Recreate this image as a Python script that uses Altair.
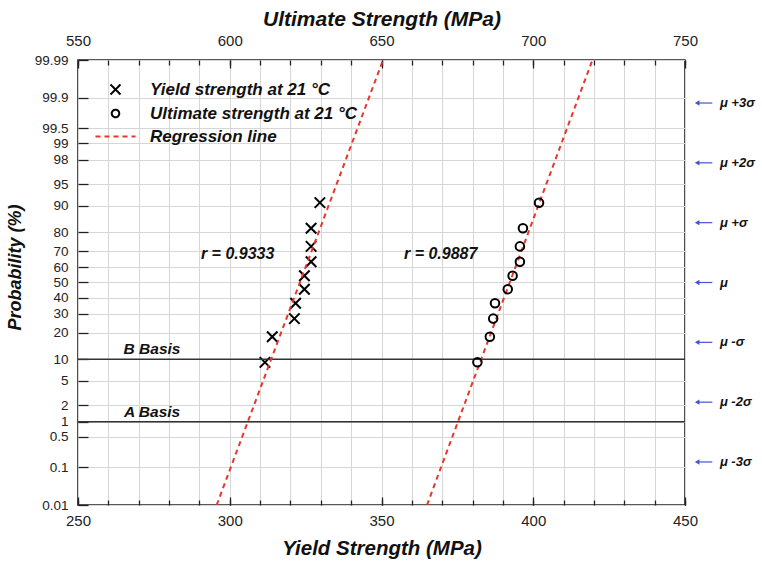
import altair as alt
import pandas as pd
from statistics import NormalDist

ND = NormalDist()


def zval(p):
    return ND.inv_cdf(p / 100.0)


# ---------------- data ----------------
plot_prob = [9.1, 18.2, 27.3, 36.4, 45.5, 54.5, 63.6, 72.7, 81.8, 90.9]
yield_mpa = [311.6, 314.0, 321.3, 321.7, 324.6, 324.6, 326.8, 326.8, 326.8, 329.7]
ultimate_mpa = [681.6, 685.7, 686.8, 687.4, 691.6, 693.2, 695.6, 695.6, 696.6, 701.9]

line_prob = [0.01, 99.99]
yield_line_mpa = [295.7, 350.5]
ultimate_line_mpa = [665.0, 719.5]

r_labels = ["r = 0.9333", "r = 0.9887"]
r_x = [302.6, 369.5]          # in yield-strength axis units
r_prob = [68.3, 68.3]

basis_labels = ["B Basis", "A Basis"]
basis_prob = [10, 1]
basis_x = [274.4, 274.4]

mu_labels = ["\u03bc +3\u03c3", "\u03bc +2\u03c3", "\u03bc +\u03c3", "\u03bc",
             "\u03bc -\u03c3", "\u03bc -2\u03c3", "\u03bc -3\u03c3"]
mu_sigma = [3, 2, 1, 0, -1, -2, -3]

prob_ticks = [0.01, 0.1, 0.5, 1, 2, 5, 10, 20, 30, 40, 50, 60, 70, 80, 90,
              95, 98, 99, 99.5, 99.9, 99.99]
prob_tick_labels = ["0.01", "0.1", "0.5", "1", "2", "5", "10", "20", "30", "40",
                    "50", "60", "70", "80", "90", "95", "98", "99", "99.5",
                    "99.9", "99.99"]
yield_ticks = list(range(250, 451, 10))
yield_major = list(range(250, 451, 50))
ultimate_major = list(range(550, 751, 50))

S_Y = "Yield strength at 21 \u00b0C"
S_U = "Ultimate strength at 21 \u00b0C"
S_R = "Regression line"
series_dom = [S_Y, S_U, S_R]

# ---------------- tables ----------------
df_y = pd.DataFrame({"mpa": yield_mpa, "z": [zval(p) for p in plot_prob], "series": S_Y})
df_u = pd.DataFrame({"mpa": ultimate_mpa, "z": [zval(p) for p in plot_prob], "series": S_U})
df_ly = pd.DataFrame({"mpa": yield_line_mpa, "z": [zval(p) for p in line_prob], "series": S_R})
df_lu = pd.DataFrame({"mpa": ultimate_line_mpa, "z": [zval(p) for p in line_prob], "series": S_R})
df_r = pd.DataFrame({"mpa": r_x, "z": [zval(p) for p in r_prob], "label": r_labels})
df_b = pd.DataFrame({"mpa": basis_x, "z": [zval(p) for p in basis_prob], "label": basis_labels})
MU_ARROW_TIP = 454.0
MU_ARROW_END = 459.0
MU_TEXT_X = 461.5
df_mu = pd.DataFrame({"z": mu_sigma, "label": mu_labels,
                      "tip": MU_ARROW_TIP, "end": MU_ARROW_END, "tx": MU_TEXT_X})

ZMIN, ZMAX = zval(0.01), zval(99.99)
z_ticks = [zval(p) for p in prob_ticks]

label_expr = "''"
for zz, lab in zip(z_ticks, prob_tick_labels):
    label_expr = f"abs(datum.value - ({zz:.6f})) < 0.0005 ? '{lab}' : (" + label_expr + ")"

FONT = "Liberation Sans"

xs_y = alt.Scale(domain=[250, 450], nice=False, zero=False)
xs_u = alt.Scale(domain=[550, 750], nice=False, zero=False)
ys = alt.Scale(domain=[ZMIN, ZMAX], nice=False, zero=False)

X_PATH = "M-1,-1L1,1M-1,1L1,-1"
O_PATH = "M0.75,0A0.75,0.75,0,1,1,-0.75,0A0.75,0.75,0,1,1,0.75,0Z"
L_PATH = "M-4,0H4"

leg = alt.Legend(title=None)
color_enc = alt.Color("series:N", scale=alt.Scale(domain=series_dom, range=["black", "black", "#e8362c"]), legend=leg)
shape_enc = alt.Shape("series:N", scale=alt.Scale(domain=series_dom, range=[X_PATH, O_PATH, L_PATH]), legend=leg)
dash_enc = alt.StrokeDash("series:N", scale=alt.Scale(domain=series_dom, range=[[1, 0], [1, 0], [5, 4]]), legend=leg)
sw_enc = alt.StrokeWidth("series:N", scale=alt.Scale(domain=series_dom, range=[2, 2, 1.4]), legend=leg)

no_axis = None

# L1: yield points + main bottom/left axes (labels, grid, titles)
pts_y = alt.Chart(df_y).mark_point(filled=False, size=110, opacity=1).encode(
    x=alt.X("mpa:Q", scale=xs_y, axis=alt.Axis(
        orient="bottom", values=yield_ticks,
        labelExpr="datum.value % 50 === 0 ? datum.label : ''",
        grid=True, ticks=False, domain=False, labelPadding=8, labelFlush=False,
        labelOverlap=False, title="Yield Strength (MPa)", titleFontSize=20.5,
        titleY=43, titleBaseline="middle")),
    y=alt.Y("z:Q", scale=ys, axis=alt.Axis(
        orient="left", values=z_ticks, labelExpr=label_expr, grid=True,
        ticks=False, domain=False, labelPadding=10, labelFlush=False,
        labelOverlap=False, labelFontSize=13.5, title="Probability (%)",
        titleFontSize=18, titleAngle=270, titleX=-63, titleY=207,
        titleAlign="center", titleBaseline="middle")),
    color=color_enc, shape=shape_enc, strokeWidth=sw_enc,
)

# L2: ultimate points + top axis labels
pts_u = alt.Chart(df_u).mark_point(filled=False, size=130, opacity=1).encode(
    x=alt.X("mpa:Q", scale=xs_u, axis=alt.Axis(
        orient="top", values=ultimate_major, grid=False, ticks=False,
        domain=False, labelPadding=12, labelFlush=False, labelOverlap=False,
        title="Ultimate Strength (MPa)", titleFontSize=21, titleY=-41,
        titleBaseline="middle")),
    y=alt.Y("z:Q", scale=ys, axis=no_axis),
    color=color_enc, shape=shape_enc, strokeWidth=sw_enc,
)

# L3: yield regression line + bottom major ticks + left ticks (inward)
line_y = alt.Chart(df_ly).mark_line().encode(
    x=alt.X("mpa:Q", scale=xs_y, axis=alt.Axis(
        orient="bottom", values=yield_major, labels=False, grid=False,
        domain=False, ticks=True, tickSize=8, offset=-8, title=None)),
    y=alt.Y("z:Q", scale=ys, axis=alt.Axis(
        orient="left", values=z_ticks, labels=False, grid=False, domain=False,
        ticks=True, tickSize=10, offset=-10, title=None)),
    color=color_enc, strokeDash=dash_enc, strokeWidth=sw_enc,
)

# L4: ultimate regression line + top major ticks
line_u = alt.Chart(df_lu).mark_line().encode(
    x=alt.X("mpa:Q", scale=xs_u, axis=alt.Axis(
        orient="top", values=ultimate_major, labels=False, grid=False,
        domain=False, ticks=True, tickSize=8, offset=-8, title=None)),
    y=alt.Y("z:Q", scale=ys, axis=no_axis),
    color=color_enc, strokeDash=dash_enc, strokeWidth=sw_enc,
)

txt_style = dict(font=FONT, fontStyle="italic", fontWeight="bold", color="#111")

# L5: basis labels + bottom minor ticks
basis_txt = alt.Chart(df_b).mark_text(fontSize=15.5, dy=-10, baseline="middle", **txt_style).encode(
    x=alt.X("mpa:Q", scale=xs_y, axis=alt.Axis(
        orient="bottom", values=yield_ticks, labels=False, grid=False,
        domain=False, ticks=True, tickSize=5, offset=-5, title=None)),
    y=alt.Y("z:Q", scale=ys, axis=no_axis),
    text="label:N",
)

# L6: r labels + top minor ticks
r_txt = alt.Chart(df_r).mark_text(fontSize=16, baseline="middle", **txt_style).encode(
    x=alt.X("mpa:Q", scale=xs_y, axis=alt.Axis(
        orient="top", values=yield_ticks, labels=False, grid=False,
        domain=False, ticks=True, tickSize=5, offset=-5, title=None)),
    y=alt.Y("z:Q", scale=ys, axis=no_axis),
    text="label:N",
)

# basis rules
basis_rule = alt.Chart(df_b).mark_rule(color="#333", strokeWidth=1.5).encode(
    y=alt.Y("z:Q", scale=ys, axis=no_axis),
)

# right-hand sigma annotations
mu_txt = alt.Chart(df_mu).mark_text(fontSize=13, align="left", baseline="middle", **txt_style).encode(
    x=alt.X("tx:Q", scale=xs_y, axis=no_axis),
    y=alt.Y("z:Q", scale=ys, axis=no_axis),
    text="label:N",
)
mu_arrow = alt.Chart(df_mu).mark_rule(color="#4455cc", strokeWidth=1.2).encode(
    x=alt.X("tip:Q", scale=xs_y, axis=no_axis),
    x2="end:Q",
    y=alt.Y("z:Q", scale=ys, axis=no_axis),
)
mu_head = alt.Chart(df_mu).mark_point(shape="triangle-left", filled=True, size=28,
                                      color="#4455cc", opacity=1).encode(
    x=alt.X("tip:Q", scale=xs_y, axis=no_axis),
    y=alt.Y("z:Q", scale=ys, axis=no_axis),
)

chart = alt.layer(
    pts_y, basis_rule, line_y, line_u, pts_u, basis_txt, r_txt,
    mu_arrow, mu_head, mu_txt,
).resolve_scale(
    x="independent", y="independent"
).properties(
    width=607, height=445,
    autosize=alt.AutoSizeParams(type="none"),
    padding={"left": 78, "top": 60, "right": 77, "bottom": 56},
).configure_view(
    stroke="#222", strokeWidth=1.6,
).configure_axis(
    labelFont=FONT, labelFontSize=15, labelColor="#222",
    titleFont=FONT, titleFontStyle="italic", titleFontWeight="bold",
    titleColor="#111", tickColor="#222", tickWidth=1.3,
    gridColor="#d6d6d6", gridWidth=1,
).configure_legend(
    orient="none", legendX=29, legendY=21, padding=0,
    labelFont=FONT, labelFontSize=17, labelFontStyle="italic",
    labelFontWeight="bold", labelColor="#111", labelOffset=26,
    labelLimit=400, rowPadding=5, symbolSize=100,
)

chart.save("out.html", embed_options={"renderer": "svg", "actions": False})
